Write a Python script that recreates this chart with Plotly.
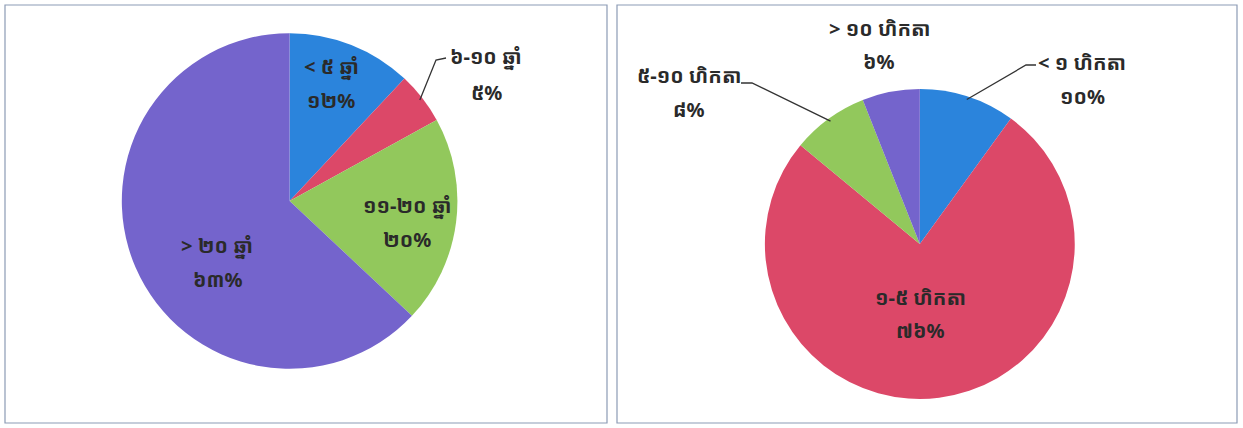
import math
import plotly.graph_objects as go

W, H = 1243, 428

# ---- data ----
left_labels = ["< ៥ ឆ្នាំ", "៦-១០ ឆ្នាំ", "១១-២០ ឆ្នាំ", "> ២០ ឆ្នាំ"]
left_values = [12, 5, 20, 63]
right_labels = ["< ១ ហិកតា", "១-៥ ហិកតា", "៥-១០ ហិកតា", "> ១០ ហិកតា"]
right_values = [10, 76, 8, 6]
colors = ["#2b84dc", "#dc4868", "#92c85c", "#7464cc"]

KH = str.maketrans("0123456789", "០១២៣៤៥៦៧៨៩")


def kh_pct(vals):
    tot = sum(vals)
    return [str(round(v * 100 / tot)).translate(KH) + "%" for v in vals]


FONT = "Noto Sans Khmer, Khmer OS, DejaVu Sans, sans-serif"
FS = 20
TXT = "#2a2a2a"

left_dom = dict(x=[0.098, 0.368], y=[0.136, 0.925])
right_dom = dict(x=[0.615, 0.865], y=[0.068, 0.792])

fig = go.Figure()
for labels, values, dom in [(left_labels, left_values, left_dom),
                            (right_labels, right_values, right_dom)]:
    fig.add_trace(go.Pie(
        labels=labels, values=values, textinfo="none",
        sort=False, direction="clockwise", rotation=0,
        marker=dict(colors=colors, line=dict(width=0)),
        domain=dom, showlegend=False, hoverinfo="label+percent",
    ))


def edge_point(values, idx, dom):
    x0, x1 = dom["x"][0] * W, dom["x"][1] * W
    y0, y1 = (1 - dom["y"][1]) * H, (1 - dom["y"][0]) * H
    cx, cy = (x0 + x1) / 2, (y0 + y1) / 2
    r = min(x1 - x0, y1 - y0) / 2
    tot = sum(values)
    mid = (sum(values[:idx]) + values[idx] / 2) / tot * 2 * math.pi
    return cx + (r - 3) * math.sin(mid), cy - (r - 3) * math.cos(mid)


shapes = []
annotations = []

# label placements: (labels, values, idx, (x, y_line1, y_line2))
placements = [
    (left_labels, left_values, 0, (331, 67, 100)),
    (left_labels, left_values, 1, (486, 57, 92)),
    (left_labels, left_values, 2, (407, 206, 240)),
    (left_labels, left_values, 3, (217, 246, 279)),
    (right_labels, right_values, 0, (1082, 63, 97)),
    (right_labels, right_values, 1, (920, 297, 330)),
    (right_labels, right_values, 2, (689, 75, 110)),
    (right_labels, right_values, 3, (879, 28, 62)),
]
for labs, vals, idx, (x, y1, y2) in placements:
    for txt, yy in [(labs[idx], y1), (kh_pct(vals)[idx], y2)]:
        annotations.append(dict(
            x=x / W, y=1 - yy / H, xref="paper", yref="paper",
            text="<b>" + txt + "</b>", showarrow=False,
            font=dict(family=FONT, size=FS, color=TXT),
            xanchor="center", yanchor="middle"))

# leader lines: (values, idx, dom, elbow, end)
leaders = [
    (left_values, 1, left_dom, (436, 60), (446, 58)),
    (right_values, 0, right_dom, (1026, 65), (1036, 65)),
    (right_values, 2, right_dom, (752, 83), (741, 83)),
]
for vals, idx, dom, elbow, end in leaders:
    ex, ey = edge_point(vals, idx, dom)
    path = f"M {ex/W} {1-ey/H} L {elbow[0]/W} {1-elbow[1]/H} L {end[0]/W} {1-end[1]/H}"
    shapes.append(dict(type="path", xref="paper", yref="paper", path=path,
                       line=dict(color="#333333", width=1.3)))

# panel frames
for x0, x1 in [(5, 607), (617, 1237)]:
    shapes.append(dict(type="rect", xref="paper", yref="paper",
                       x0=x0 / W, x1=x1 / W, y0=1 - 423 / H, y1=1 - 5 / H,
                       line=dict(color="#8c9bb5", width=1.2), fillcolor="rgba(0,0,0,0)"))

fig.update_layout(
    width=W, height=H, margin=dict(l=0, r=0, t=0, b=0),
    paper_bgcolor="white", plot_bgcolor="white",
    shapes=shapes, annotations=annotations,
)
fig.write_html("out.html", config={"displayModeBar": False},
               post_script="document.body.style.margin='0';")
